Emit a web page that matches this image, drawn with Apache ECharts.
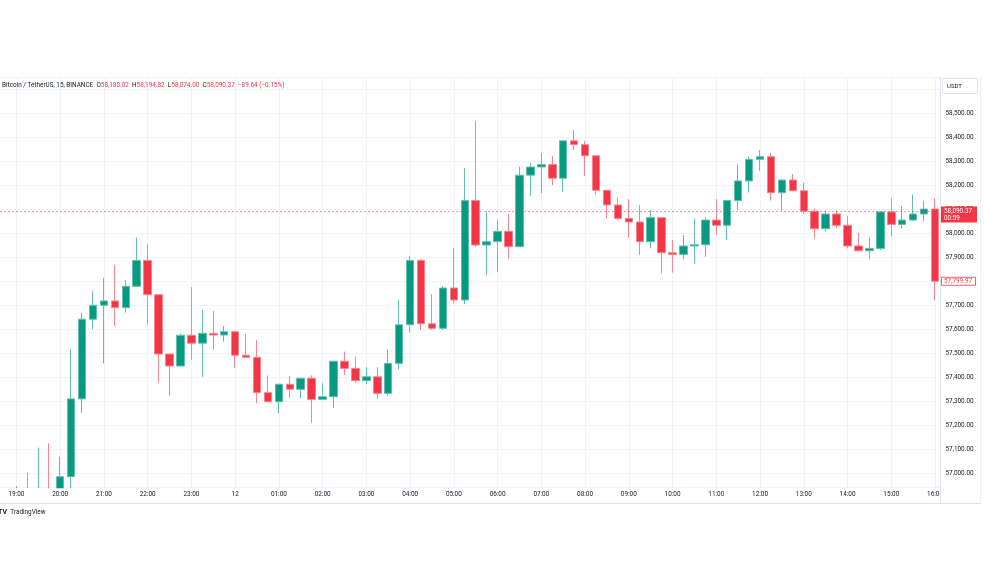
<!DOCTYPE html>
<html><head><meta charset="utf-8">
<script src="https://cdn.jsdelivr.net/npm/echarts@6/dist/echarts.min.js"></script>
<style>html,body{margin:0;padding:0;background:#fff}#c{width:984px;height:584px}</style>
</head><body><div id="c"></div>
<script>
// 15-minute candles, 19:00 (11th) .. 16:00 (12th)
const times = ['19:00','19:15','19:30','19:45','20:00','20:15','20:30','20:45','21:00','21:15','21:30','21:45',
'22:00','22:15','22:30','22:45','23:00','23:15','23:30','23:45','00:00','00:15','00:30','00:45',
'01:00','01:15','01:30','01:45','02:00','02:15','02:30','02:45','03:00','03:15','03:30','03:45',
'04:00','04:15','04:30','04:45','05:00','05:15','05:30','05:45','06:00','06:15','06:30','06:45',
'07:00','07:15','07:30','07:45','08:00','08:15','08:30','08:45','09:00','09:15','09:30','09:45',
'10:00','10:15','10:30','10:45','11:00','11:15','11:30','11:45','12:00','12:15','12:30','12:45',
'13:00','13:15','13:30','13:45','14:00','14:15','14:30','14:45','15:00','15:15','15:30','15:45','16:00'];
const opens = [56880,56910,56885,56920,56895,56986,57310,57642,57700,57718,57690,57779,
57887,57744,57497,57447,57575,57542,57583,57576,57590,57492,57483,57336,
57298,57371,57350,57396,57308,57319,57467,57437,57386,57402,57333,57458,
57619,57887,57623,57604,57772,57722,58136,57951,57965,58008,57944,58242,
58276,58286,58229,58385,58369,58323,58179,58118,58062,58047,57965,58065,
57919,57912,57947,57952,58055,58033,58136,58218,58308,58319,58169,58222,
58177,58092,58019,58080,58033,57947,57927,57937,58089,58037,58055,58080,58101];
const highs = [56947,57002,57107,57125,57069,57517,57669,57760,57815,57868,57805,57982,
57955,57744,57497,57583,57775,57680,57677,57614,57590,57580,57555,57408,
57371,57405,57396,57408,57375,57467,57507,57486,57442,57442,57517,57722,
57905,57893,57746,57780,57937,58271,58468,58090,58055,58080,58278,58292,
58333,58322,58385,58430,58385,58323,58179,58150,58142,58118,58097,58065,
57972,57993,58060,58067,58143,58140,58287,58319,58347,58333,58222,58247,
58211,58104,58094,58094,58072,58002,57982,58089,58146,58114,58162,58135,58146];
const lows = [56800,56830,56850,56860,56870,56930,57252,57600,57458,57614,57669,57779,
57619,57377,57325,57447,57472,57402,57514,57548,57440,57483,57292,57298,
57250,57315,57311,57211,57308,57271,57410,57377,57372,57310,57323,57433,
57586,57597,57597,57597,57708,57705,57944,57826,57839,57893,57944,58155,
58167,58201,58173,58347,58239,58160,58062,58055,57982,57910,57937,57833,
57836,57892,57875,57902,57993,57972,58097,58169,58260,58136,58094,58177,
58080,57977,58007,58021,57937,57927,57893,57930,57986,58019,58050,58051,57722];
const closes = [56910,56885,56920,56895,56986,57310,57642,57700,57718,57690,57779,57887,
57744,57497,57447,57575,57542,57583,57576,57590,57492,57483,57336,57298,
57371,57350,57396,57308,57319,57467,57437,57386,57402,57333,57458,57619,
57887,57623,57604,57772,57722,58136,57951,57965,58008,57944,58242,58276,
58286,58229,58385,58369,58323,58179,58118,58062,58047,57965,58065,57919,
57912,57947,57952,58055,58033,58136,58218,58308,58319,58169,58222,58177,
58092,58019,58080,58033,57947,57927,57937,58089,58037,58055,58080,58101,57799.97];
const dayLabel = '12';           // label shown at 00:00
const lastPrice = 58090.37;
const lastPriceTimer = '00:59';
const closeLabel = 57799.97;
const header = {name:'Bitcoin / TetherUS, 15, BINANCE', o:'58,180.02', h:'58,194.82', l:'58,074.00', c:'58,090.37', chg:'\u221289.64 (\u22120.15%)'};

const UP = '#089981', DOWN = '#F23645';
const FONT = 'Roboto, "Liberation Sans", sans-serif';
const FS = 6.4;
const chart = echarts.init(document.getElementById('c'), null, {renderer:'canvas'});

// half-step slots (7.5 min) so that the pane edges fall between candles like the reference
const LEAD = 3, TRAIL = 1;
const slots = [], slotData = [];
for (let k = 0; k < LEAD; k++) { slots.push('pre' + k); slotData.push('-'); }
times.forEach((t, i) => {
  slots.push(t); slotData.push([opens[i], closes[i], lows[i], highs[i]]);
  if (i < times.length - 1) { slots.push('mid' + i); slotData.push('-'); }
});
for (let k = 0; k < TRAIL; k++) { slots.push('post' + k); slotData.push('-'); }

const isHour = v => typeof v === 'string' && /^\d\d:00$/.test(v);
const hourText = v => v === '00:00' ? dayLabel : v;
const fmt = v => v.toLocaleString('en-US', {minimumFractionDigits: 2, maximumFractionDigits: 2});

const yMin = 56940, yMax = 58651;

chart.setOption({
  animation: false,
  backgroundColor: '#ffffff',
  grid: {left: 0, width: 940.5, top: 77, height: 410.7},
  xAxis: [{
    type: 'category', data: slots, boundaryGap: false, position: 'bottom',
    axisLine: {show: false}, axisTick: {show: false}, axisLabel: {show: false},
    splitLine: {show: true, interval: (i, v) => isHour(v), lineStyle: {color: '#f0f3fa', width: 1}},
    z: 0
  }, {
    type: 'category', data: slots, boundaryGap: false, position: 'bottom',
    axisLine: {show: false}, axisTick: {show: false}, splitLine: {show: false},
    axisLabel: {show: true, interval: (i, v) => isHour(v), margin: 4, fontSize: FS, color: '#131722', fontFamily: FONT,
      formatter: v => isHour(v) ? hourText(v) : ''},
    z: 4
  }],
  yAxis: [{
    type: 'value', position: 'right', min: yMin, max: yMax, splitNumber: 17,
    axisLine: {show: false}, axisTick: {show: false}, axisLabel: {show: false},
    splitLine: {show: true, lineStyle: {color: '#f0f3fa', width: 1}},
    z: 0
  }, {
    type: 'value', position: 'right', min: yMin, max: yMax, splitNumber: 17,
    axisLine: {show: false}, axisTick: {show: false}, splitLine: {show: false},
    axisLabel: {
      show: true, margin: 5, fontSize: FS, color: '#131722', fontFamily: FONT,
      showMinLabel: false, showMaxLabel: false,
      formatter: v => (Math.round(v) === v && v % 100 === 0 && v < 58600) ? fmt(v) : ''
    },
    z: 6
  }],
  series: [{
    type: 'candlestick',
    xAxisIndex: 0, yAxisIndex: 0,
    data: slotData,
    barWidth: 8,
    z: 2,
    itemStyle: {color: UP, color0: DOWN, borderColor: '#5fc0b0', borderColor0: '#f7848e', borderWidth: 1},
    markLine: {
      silent: true, symbol: 'none', animation: false,
      label: {show: false},
      lineStyle: {color: 'rgba(242,54,69,0.5)', type: [2, 2], width: 1},
      data: [{yAxis: lastPrice}]
    }
  }]
});

const yLast = chart.convertToPixel({yAxisIndex: 0}, lastPrice);
const yClose = chart.convertToPixel({yAxisIndex: 0}, closeLabel);
const yBottom = chart.convertToPixel({yAxisIndex: 0}, yMin);

chart.setOption({
  graphic: [
    // time-scale band below the pane hides anything past the pane bottom
    {type: 'rect', z: 3, shape: {x: 0, y: yBottom + 0.5, width: 984, height: 60}, style: {fill: '#ffffff'}},
    // price-scale background
    {type: 'rect', z: 5, shape: {x: 940.5, y: 77, width: 43.5, height: 426}, style: {fill: '#ffffff'}},
    {type: 'line', z: 7, shape: {x1: 940.5, y1: 77, x2: 940.5, y2: 503.5}, style: {stroke: '#e0e3eb', lineWidth: 1}},
    {type: 'line', z: 7, shape: {x1: 980.5, y1: 77, x2: 980.5, y2: 503.5}, style: {stroke: '#eef0f4', lineWidth: 1}},
    {type: 'line', z: 7, shape: {x1: 0, y1: 503.5, x2: 980.5, y2: 503.5}, style: {stroke: '#e0e3eb', lineWidth: 1}},
    // USDT box
    {type: 'rect', z: 7, shape: {x: 942.5, y: 78.5, width: 35, height: 15, r: 2}, style: {fill: '#fff', stroke: '#e0e3eb', lineWidth: 1}},
    {type: 'text', z: 8, x: 947, y: 86, style: {text: 'USDT', fontSize: 6, fill: '#131722', fontFamily: FONT, verticalAlign: 'middle'}},
    // last price label
    {type: 'rect', z: 8, shape: {x: 941, y: yLast - 5, width: 36, height: 16}, style: {fill: DOWN}},
    {type: 'text', z: 9, x: 944, y: yLast, style: {text: fmt(lastPrice), fontSize: FS, fill: '#fff', fontFamily: FONT, verticalAlign: 'middle'}},
    {type: 'text', z: 9, x: 944, y: yLast + 7, style: {text: lastPriceTimer, fontSize: FS, fill: '#fff', fontFamily: FONT, verticalAlign: 'middle'}},
    // close label (outlined)
    {type: 'rect', z: 8, shape: {x: 941.5, y: yClose - 4, width: 34, height: 8}, style: {fill: '#fff', stroke: DOWN, lineWidth: 0.8}},
    {type: 'text', z: 9, x: 944, y: yClose, style: {text: fmt(closeLabel), fontSize: FS, fill: DOWN, fontFamily: FONT, verticalAlign: 'middle'}},
    // header
    {type: 'text', z: 9, x: 2, y: 85, style: {
      rich: {n: {fontSize: FS, fill: '#131722', fontFamily: FONT}, v: {fontSize: FS, fill: DOWN, fontFamily: FONT}},
      text: '{n|' + header.name + '  O}{v|' + header.o + '}{n|  H}{v|' + header.h + '}{n|  L}{v|' + header.l + '}{n|  C}{v|' + header.c + '}{v|  ' + header.chg + '}',
      verticalAlign: 'middle'
    }},
    // TradingView logo
    {type: 'text', z: 9, x: -2, y: 512.5, style: {
      rich: {b: {fontSize: 7, fontWeight: 'bold', fill: '#131722', fontFamily: FONT}, t: {fontSize: FS, fill: '#131722', fontFamily: FONT}},
      text: '{b|TV} {t|TradingView}', verticalAlign: 'middle'
    }}
  ]
});
</script></body></html>
